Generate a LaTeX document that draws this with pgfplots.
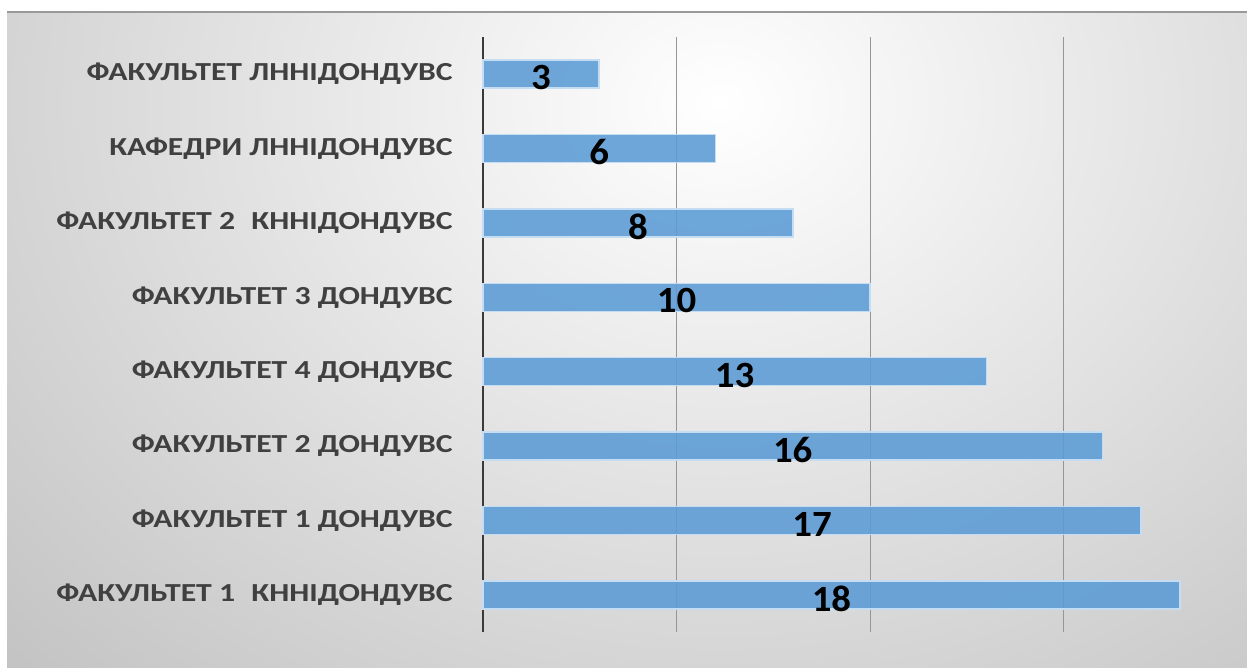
\documentclass[border=0pt]{standalone}
\usepackage{fontspec}
\setmainfont{Carlito}
\newfontfamily\labfont[FakeStretch=1.22]{Carlito}
\newfontfamily\numfont[FakeStretch=1.05]{Carlito}
\usepackage{pgfplots}
\pgfplotsset{compat=1.18}
\definecolor{barfill}{RGB}{91,155,213}
\definecolor{baredge}{RGB}{197,221,243}
\definecolor{labgray}{RGB}{64,64,64}
\definecolor{gridgray}{RGB}{150,150,150}
\definecolor{bgouter}{RGB}{192,192,192}
\begin{document}
\begin{tikzpicture}[x=0.5pt,y=0.5pt]
\useasboundingbox (0,0) rectangle (1247,668);
\fill[white] (0,0) rectangle (1247,668);
\begin{scope}
\clip (7,0) rectangle (1247,656);
\shade[inner color=white, outer color=bgouter] (720,565) ellipse [x radius=1050, y radius=850];
\end{scope}
\draw[gray!80, line width=0.6pt] (7,656) -- (1247,656);
\begin{axis}[
  at={(241.5pt,18pt)}, anchor=south west,
  scale only axis,
  width=377.5pt, height=297.5pt,
  xbar, bar width=14pt,
  xmin=0, xmax=19.5,
  ymin=-0.5, ymax=7.5,
  axis line style={draw=none},
  xtick={5,10,15}, xticklabels={},
  xmajorgrids,
  grid style={gridgray, line width=0.5pt},
  extra x ticks={0}, extra x tick labels={},
  extra x tick style={grid style={labgray!90!black, line width=1.3pt}},
  major tick length=0pt,
  ytick={0,1,2,3,4,5,6,7},
  yticklabels={
    ФАКУЛЬТЕТ 1\hspace{0.35em} КННІДОНДУВС,
    ФАКУЛЬТЕТ 1 ДОНДУВС,
    ФАКУЛЬТЕТ 2 ДОНДУВС,
    ФАКУЛЬТЕТ 4 ДОНДУВС,
    ФАКУЛЬТЕТ 3 ДОНДУВС,
    ФАКУЛЬТЕТ 2\hspace{0.35em} КННІДОНДУВС,
    КАФЕДРИ ЛННІДОНДУВС,
    ФАКУЛЬТЕТ ЛННІДОНДУВС},
  yticklabel style={anchor=east, inner sep=0pt, xshift=-15pt, text=labgray,
    font=\labfont\fontsize{13}{13}\selectfont\bfseries},
  /pgf/number format/assume math mode=true,
  nodes near coords,
  visualization depends on={rawx \as \rawx},
  every node near coord/.append style={anchor=center, inner sep=0pt,
    xshift={-9.68pt*\rawx}, yshift=-1.8pt,
    font=\numfont\fontsize{18.5}{18.5}\selectfont\bfseries, text=black},
  clip=false,
]
\addplot[fill=barfill, fill opacity=0.88, draw=baredge, line width=0.8pt, text opacity=1]
  coordinates {(18,0) (17,1) (16,2) (13,3) (10,4) (8,5) (6,6) (3,7)};
\end{axis}
\end{tikzpicture}
\end{document}
